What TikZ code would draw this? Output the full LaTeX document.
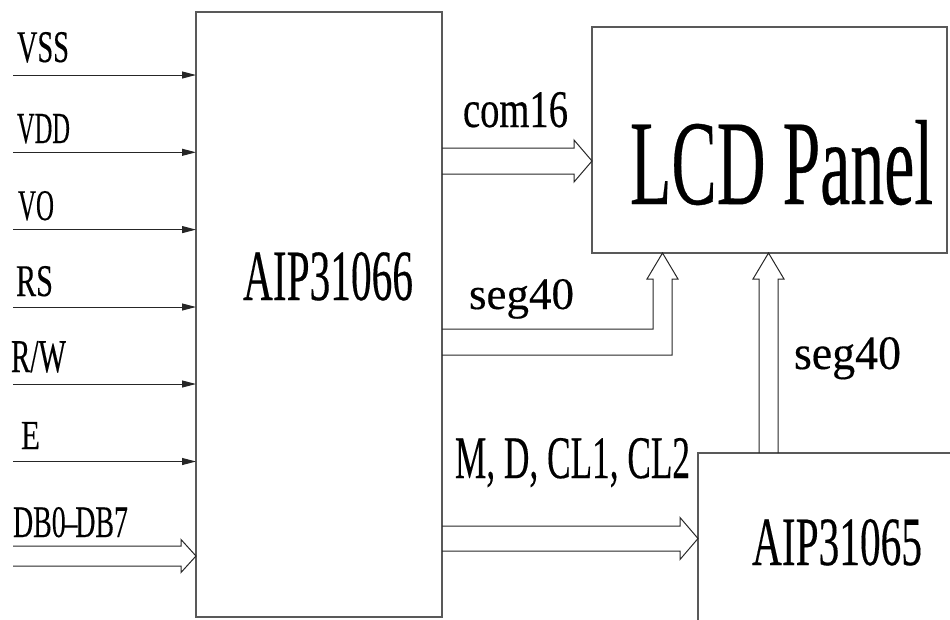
\documentclass[tikz,border=0pt]{standalone}
\usepackage{fontspec}
\setmainfont{Liberation Serif}[FakeBold=0.3]
\usetikzlibrary{arrows.meta,calc}
\newcommand\lbl[3]{\resizebox{#1pt}{#2pt}{#3}}
\newcommand\busR[5]{%
  \draw[bus] ($(#1)+(0,-#3)$) -- ($(#2)+(-#5,-#3)$) -- ($(#2)+(-#5,-#4)$) -- (#2)
    -- ($(#2)+(-#5,#4)$) -- ($(#2)+(-#5,#3)$) -- ($(#1)+(0,#3)$);}
\begin{document}
\begin{tikzpicture}[x=1pt,y=-1pt,
  box/.style={draw=black!65,line width=1.3pt,outer sep=0pt,inner sep=0pt,anchor=north west},
  sig/.style={draw=black!85,line width=1pt,-{Triangle[length=14pt,width=7pt]}},
  bus/.style={draw=black!85,line width=1pt,line join=miter},
  lab/.style={inner sep=0pt,outer sep=0pt,anchor=base west}]
\useasboundingbox (0,0) rectangle (950,619);
\clip (0,0) rectangle (950,619);
% boxes
\node[box,minimum width=246pt,minimum height=605pt] (u1) at (196,12) {};
\node[box,minimum width=355pt,minimum height=226pt] (lcd) at (592,27) {};
\node[box,minimum width=270pt,minimum height=180pt] (u2) at (698,453) {};
% box texts
\node[lab] (tu1) at (243,300) {\lbl{170}{48}{AIP31066}};
\node[lab] (tlcd) at (630,204) {\lbl{303}{84}{LCD Panel}};
\node[lab] (tu2) at (752,565) {\lbl{170}{46}{AIP31065}};
% input signals
\coordinate (ivss) at (13,75);
\coordinate (ivdd) at (13,152.3);
\coordinate (ivo) at (13,229.6);
\coordinate (irs) at (13,307);
\coordinate (irw) at (13,384);
\coordinate (ie) at (13,461.5);
\draw[sig] (ivss) -- (ivss -| u1.west);
\draw[sig] (ivdd) -- (ivdd -| u1.west);
\draw[sig] (ivo) -- (ivo -| u1.west);
\draw[sig] (irs) -- (irs -| u1.west);
\draw[sig] (irw) -- (irw -| u1.west);
\draw[sig] (ie) -- (ie -| u1.west);
\node[lab] (lvss) at (17,62) {\lbl{52}{30}{VSS}};
\node[lab] (lvdd) at (17,143) {\lbl{53}{29}{VDD}};
\node[lab] (lvo) at (18,220) {\lbl{36}{29}{VO}};
\node[lab] (lrs) at (16,296) {\lbl{37}{30}{RS}};
\node[lab] (lrw) at (11,372) {\lbl{55}{31}{R/W}};
\node[lab] (le) at (21,449) {\lbl{19}{27}{E}};
\node[lab] (ldb) at (13,537) {\lbl{115}{30}{DB0\kern-0.08em–\kern-0.08emDB7}};
% DB bus
\coordinate (idb) at (13,556);
\coordinate (tdb) at (u1.west |- idb);
\busR{idb}{tdb}{10}{16.5}{15}
% com16
\coordinate (c16a) at (u1.east |- 0,161);
\coordinate (c16b) at (lcd.west |- c16a);
\busR{c16a}{c16b}{13}{21}{18}
\node[lab] (lc16) at (463,127) {\lbl{105}{35}{com16}};
% M,D,CL1,CL2
\coordinate (mda) at (u1.east |- 0,538.5);
\coordinate (mdb) at (u2.west |- mda);
\busR{mda}{mdb}{12.5}{21}{18}
\node[lab] (lmd) at (455,478) {\lbl{235}{40}{M, D, CL1, CL2}};
% seg40 from AIP31066 (elbow)
\coordinate (sga) at (u1.east |- 0,342);
\coordinate (sgt) at (lcd.south west -| 662.5,0);
\coordinate (sgk) at (sgt |- sga);
\draw[bus] ($(sga)+(0,-13)$) -- ($(sgk)+(-9.5,-13)$) -- ($(sgt)+(-9.5,26)$) -- ($(sgt)+(-15.5,26)$)
  -- (sgt) -- ($(sgt)+(15.5,26)$) -- ($(sgt)+(9.5,26)$) -- ($(sgk)+(9.5,13)$) -- ($(sga)+(0,13)$);
\node[lab] (ls1) at (469,309) {\lbl{105}{30}{seg40}};
% seg40 from AIP31065 (up)
\coordinate (s2a) at (u2.north west -| 768.5,0);
\coordinate (s2t) at (lcd.south west -| s2a);
\draw[bus] ($(s2a)+(-9.5,0)$) -- ($(s2t)+(-9.5,26)$) -- ($(s2t)+(-15.5,26)$) -- (s2t)
  -- ($(s2t)+(15.5,26)$) -- ($(s2t)+(9.5,26)$) -- ($(s2a)+(9.5,0)$);
\node[lab] (ls2) at (794,369) {\lbl{107}{32}{seg40}};
\end{tikzpicture}
\end{document}
